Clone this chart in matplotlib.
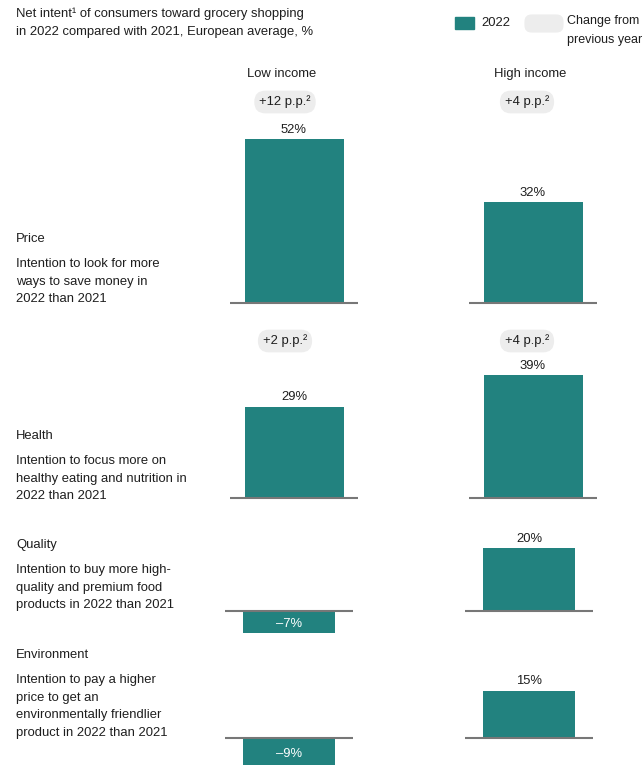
import matplotlib
matplotlib.use("Agg")
import matplotlib.pyplot as plt
from matplotlib.patches import FancyBboxPatch

plt.rcParams['font.family'] = ['Liberation Sans', 'DejaVu Sans']

# ---- data ----
categories = ["Price", "Health", "Quality", "Environment"]
descriptions = [
    "Intention to look for more\nways to save money in\n2022 than 2021",
    "Intention to focus more on\nhealthy eating and nutrition in\n2022 than 2021",
    "Intention to buy more high-\nquality and premium food\nproducts in 2022 than 2021",
    "Intention to pay a higher\nprice to get an\nenvironmentally friendlier\nproduct in 2022 than 2021",
]
groups = ["Low income", "High income"]
low_income = [52, 29, -7, -9]
high_income = [32, 39, 20, 15]
change_low = ["+12", "+2", None, None]
change_high = ["+4", "+4", None, None]

TEAL = "#22827F"
PILL = "#EDEDED"
BASE = "#777777"
TXT = "#1E1E1E"

W, H = 644, 765
fig = plt.figure(figsize=(W / 100, H / 100), dpi=100)

def fx(px):
    return px / W

def fy(py):
    return 1 - py / H

PPP = 3.15  # pixels per percentage point
baselines = [303, 498, 611, 738]
bar_w = [99, 99, 92, 92]
centers_low = [294, 294, 289, 289]
centers_high = [533, 533, 529, 529]
FS = 9.4

def panel(cx, base, value, bw):
    up, down = 190, 40
    ax = fig.add_axes([fx(cx - 64), fy(base + down), fx(128), (up + down) / H])
    ax.set_xlim(-64, 64)
    ax.set_ylim(-down / PPP, up / PPP)
    ax.axis("off")
    ax.bar(0, value, width=bw, color=TEAL, zorder=2)
    ax.axhline(0, color=BASE, lw=1.5, zorder=3)
    if value >= 0:
        ax.annotate(f"{value}%", (0, value), xytext=(0, 2.5), textcoords="offset points",
                    ha="center", va="bottom", fontsize=FS, color=TXT)
    else:
        ax.annotate(f"–{abs(value)}%", (0, value / 2), xytext=(0, -1.5), textcoords="offset points",
                    ha="center", va="center", fontsize=FS, color="white", zorder=4)
    return ax

for i in range(len(categories)):
    panel(centers_low[i], baselines[i], low_income[i], bar_w[i])
    panel(centers_high[i], baselines[i], high_income[i], bar_w[i])

# title
fig.text(fx(16), fy(8), "Net intent¹ of consumers toward grocery shopping\nin 2022 compared with 2021, European average, %",
         ha="left", va="top", fontsize=FS, color=TXT, linespacing=1.6)

# legend
fig.patches.append(plt.Rectangle((fx(455), fy(29)), fx(19), 12 / H, transform=fig.transFigure,
                                 color=TEAL))
fig.text(fx(481), fy(23), "2022", ha="left", va="center", fontsize=FS, color=TXT)
fig.patches.append(FancyBboxPatch((fx(529), fy(28)), fx(30), 9 / H,
                                  boxstyle="round,pad=0.006,rounding_size=0.01",
                                  transform=fig.transFigure, color=PILL, mutation_aspect=W / H))
fig.text(fx(567), fy(15), "Change from\nprevious year", ha="left", va="top", fontsize=9.0,
         color=TXT, linespacing=1.75)

# group headers
fig.text(fx(282), fy(74), groups[0], ha="center", va="center", fontsize=FS, color=TXT)
fig.text(fx(530), fy(74), groups[1], ha="center", va="center", fontsize=FS, color=TXT)

# change pills
pill_y = [102, 341]
for i in range(len(categories)):
    for val, cx in ((change_low[i], 285), (change_high[i], 527)):
        if val is None:
            continue
        fig.text(fx(cx), fy(pill_y[i]), f"{val} p.p.²", ha="center", va="center", fontsize=FS,
                 color=TXT,
                 bbox=dict(boxstyle="round,pad=0.38,rounding_size=0.85", fc=PILL, ec="none"))

# row labels
title_y = [239, 436, 545, 655]
for i, cat in enumerate(categories):
    fig.text(fx(16), fy(title_y[i]), cat, ha="left", va="center", fontsize=FS, color=TXT)
    fig.text(fx(16), fy(title_y[i] + 19), descriptions[i], ha="left", va="top", fontsize=FS,
             color=TXT, linespacing=1.62)

fig.savefig("out.png", dpi=100)
